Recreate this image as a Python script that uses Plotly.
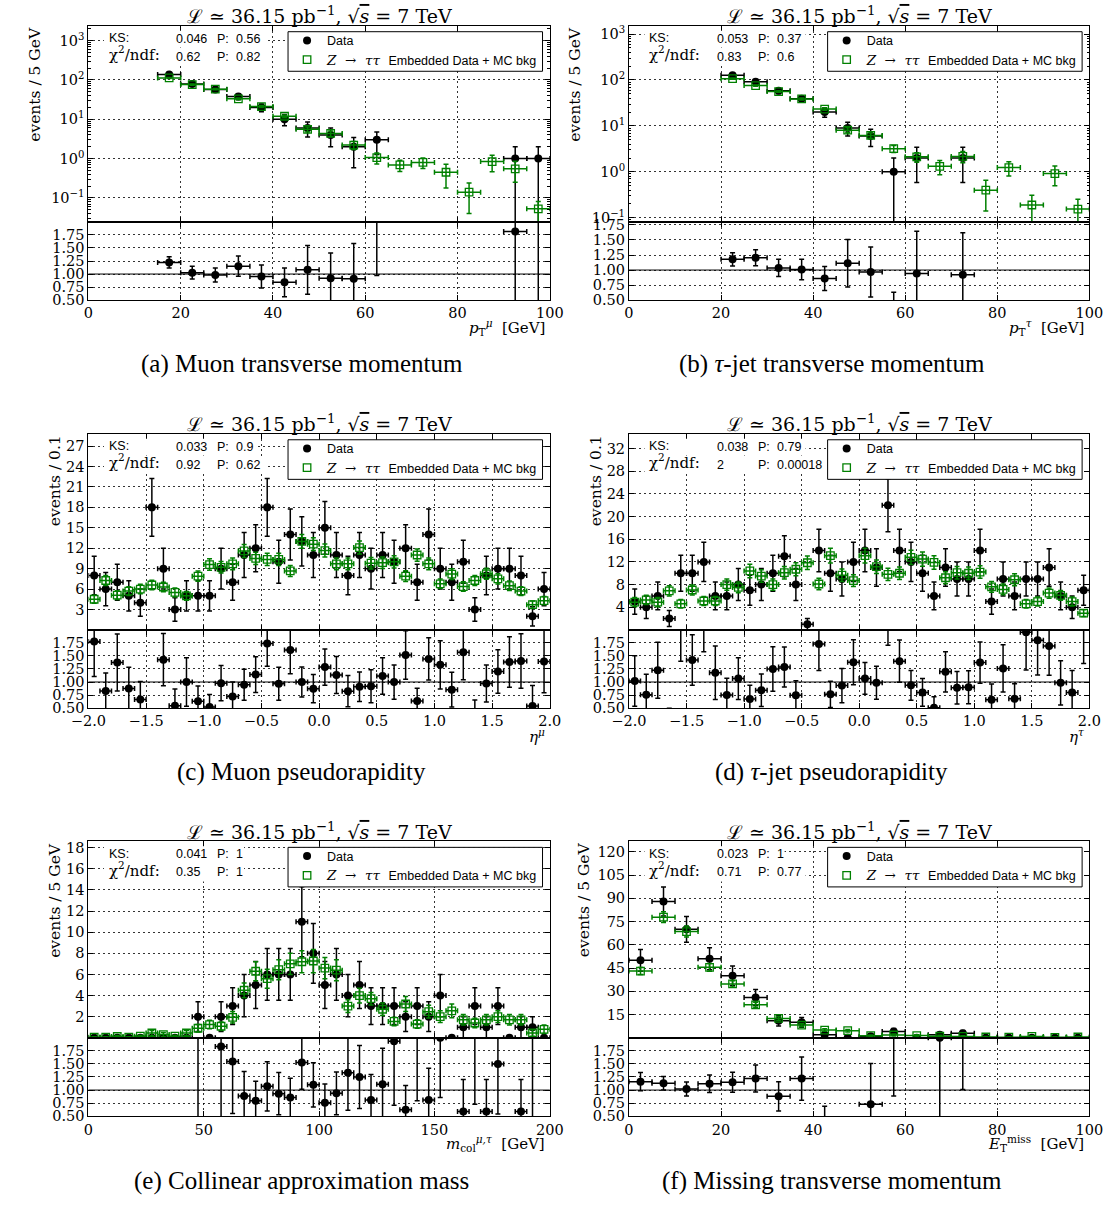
import numpy as np
import plotly.graph_objects as go

# ---------------------------------------------------------------------------
# Bin centres
# ---------------------------------------------------------------------------
pt_mu_centers = [17.5, 22.5, 27.5, 32.5, 37.5, 42.5, 47.5, 52.5, 57.5, 62.5,
                 67.5, 72.5, 77.5, 82.5, 87.5, 92.5, 97.5]
pt_tau_centers = [22.5, 27.5, 32.5, 37.5, 42.5, 47.5, 52.5, 57.5, 62.5, 67.5,
                  72.5, 77.5, 82.5, 87.5, 92.5, 97.5]
eta_centers = [-1.95, -1.85, -1.75, -1.65, -1.55, -1.45, -1.35, -1.25, -1.15, -1.05,
               -0.95, -0.85, -0.75, -0.65, -0.55, -0.45, -0.35, -0.25, -0.15, -0.05,
               0.05, 0.15, 0.25, 0.35, 0.45, 0.55, 0.65, 0.75, 0.85, 0.95,
               1.05, 1.15, 1.25, 1.35, 1.45, 1.55, 1.65, 1.75, 1.85, 1.95]
mcol_centers = [2.5, 7.5, 12.5, 17.5, 22.5, 27.5, 32.5, 37.5, 42.5, 47.5,
                52.5, 57.5, 62.5, 67.5, 72.5, 77.5, 82.5, 87.5, 92.5, 97.5,
                102.5, 107.5, 112.5, 117.5, 122.5, 127.5, 132.5, 137.5, 142.5, 147.5,
                152.5, 157.5, 162.5, 167.5, 172.5, 177.5, 182.5, 187.5, 192.5, 197.5]
met_centers = [2.5, 7.5, 12.5, 17.5, 22.5, 27.5, 32.5, 37.5, 42.5, 47.5,
               52.5, 57.5, 62.5, 67.5, 72.5, 77.5, 82.5, 87.5, 92.5, 97.5]

# ---------------------------------------------------------------------------
# (a) muon transverse momentum
# ---------------------------------------------------------------------------
pt_mu_data = [137, 78, 57, 38, 20, 10, 6, 4, 2, 3, 0, 0, 0, 0, 0, 1, 1]
pt_mu_mc = [112, 76, 58, 33, 21, 11.9, 5.55, 4.35, 2.2, 1.06, 0.69, 0.8, 0.45,
            0.14, 0.84, 0.55, 0.053]
pt_mu_mc_err = [3.0, 2.5, 2.0, 1.6, 1.2, 1.0, 0.8, 0.7, 0.5, 0.33, 0.22, 0.24,
                0.27, 0.1, 0.38, 0.3, 0.028]

# (b) tau-jet transverse momentum
pt_tau_data = [126, 91, 58, 39, 20, 9, 6, 1, 2, 0, 2, 0, 0, 0, 0, 0]
pt_tau_mc = [107, 75.5, 56, 38.6, 23.3, 8.1, 6.2, 3.2, 2.12, 1.32, 2.17, 0.4,
             1.24, 0.19, 0.92, 0.155]
pt_tau_mc_err = [3.0, 2.5, 2.2, 2.0, 1.5, 1.0, 0.8, 0.55, 0.5, 0.45, 0.6, 0.26,
                 0.43, 0.12, 0.42, 0.1]

# (c) muon pseudorapidity
eta_mu_data = [8, 6, 7, 5, 4, 18, 9, 3, 5, 5, 5, 9, 7, 11, 12, 18, 10, 14, 13, 11,
               15, 11, 8, 11, 9, 11, 10, 12, 7, 14, 9, 7, 10, 3, 8, 9, 9, 8, 2, 6]
eta_mu_mc = [4.5, 7.26, 5.1, 5.7, 6.0, 6.6, 6.3, 5.5, 5.0, 7.9,
             9.6, 9.2, 9.7, 11.6, 10.5, 10.35, 10.35, 8.66, 13.0, 12.6,
             11.66, 9.7, 9.7, 12.1, 9.8, 9.87, 10.0, 7.9, 11.0, 9.7,
             6.77, 8.2, 6.37, 7.26, 8.25, 7.5, 6.5, 5.7, 3.7, 4.3]
eta_mu_mc_err = [0.6, 0.75, 0.65, 0.65, 0.7, 0.7, 0.7, 0.65, 0.65, 0.75,
                 0.85, 0.85, 0.85, 0.95, 0.9, 0.9, 0.9, 0.8, 1.0, 0.95,
                 0.95, 0.85, 0.85, 0.95, 0.85, 0.85, 0.9, 0.8, 0.9, 0.85,
                 0.7, 0.8, 0.7, 0.75, 0.8, 0.75, 0.7, 0.65, 0.55, 0.6]

# (d) tau-jet pseudorapidity
eta_tau_data = [5, 4, 6, 2, 10, 10, 12, 6, 6, 8, 7, 8, 10, 13, 8, 1, 14, 10, 9, 12,
                14, 11, 22, 14, 12, 10, 6, 11, 9, 9, 14, 5, 9, 6, 9, 9, 11, 6, 4, 7]
eta_tau_mc = [4.9, 5.3, 4.9, 6.9, 4.6, 7.04, 5.1, 5.1, 8.0, 7.5,
              10.4, 9.5, 8.0, 10.1, 10.7, 11.85, 8.1, 13.1, 9.65, 8.7,
              13.1, 11.15, 9.8, 10.0, 12.8, 12.5, 11.9, 9.2, 10.1, 10.0,
              10.2, 7.6, 7.14, 8.85, 4.6, 5.0, 6.5, 6.1, 5.0, 2.95]
eta_tau_mc_err = [0.8, 0.8, 0.8, 0.9, 0.75, 0.9, 0.8, 0.8, 1.0, 0.95,
                  1.2, 1.1, 1.0, 1.1, 1.15, 1.2, 1.0, 1.3, 1.1, 1.05,
                  1.3, 1.2, 1.1, 1.1, 1.25, 1.25, 1.2, 1.05, 1.1, 1.1,
                  1.1, 0.95, 0.95, 1.05, 0.75, 0.8, 0.9, 0.85, 0.8, 0.6]

# (e) collinear approximation mass
mcol_data = [0, 0, 0, 0, 0, 0, 0, 0, 0, 2, 0, 2, 3, 4, 5, 6, 6, 6, 11, 8,
             5, 6, 4, 5, 3, 3, 3, 2, 3, 2, 4, 0, 1, 3, 1, 3, 0, 1, 1, 0]
mcol_mc = [0.05, 0.05, 0.12, 0.05, 0.15, 0.45, 0.3, 0.15, 0.45, 0.9,
           1.25, 1.09, 1.94, 4.5, 6.3, 5.6, 6.45, 7.0, 7.2, 7.27,
           6.6, 6.4, 3.0, 4.0, 3.7, 2.7, 1.55, 3.2, 1.3, 2.47,
           2.0, 2.55, 1.7, 1.4, 1.7, 2.0, 1.7, 1.7, 0.45, 0.8]
mcol_mc_err = [0.05, 0.05, 0.1, 0.05, 0.1, 0.25, 0.2, 0.1, 0.25, 0.35,
               0.4, 0.4, 0.55, 0.7, 0.9, 0.9, 0.95, 1.0, 1.05, 1.1,
               1.0, 1.0, 0.6, 0.7, 0.6, 0.6, 0.4, 0.7, 0.4, 0.6,
               0.55, 0.65, 0.5, 0.45, 0.5, 0.55, 0.5, 0.5, 0.3, 0.4]

# (f) missing transverse momentum
met_data = [50, 88, 70, 51, 40, 26, 11, 10, 2, 0, 1, 4, 0, 2, 3, 0, 0, 0, 0, 0]
met_mc = [43.1, 77.9, 68.6, 45.5, 34.8, 21.3, 12.5, 8.2, 5.0, 4.6,
          1.37, 1.8, 1.4, 1.0, 0.9, 0.5, 0.4, 0.9, 0.3, 0.5]
met_mc_err = [2.2, 3.5, 3.5, 2.5, 2.0, 1.6, 1.3, 1.0, 0.8, 0.8,
              0.5, 0.6, 0.5, 0.6, 0.35, 0.3, 0.3, 0.4, 0.25, 0.3]

# goodness-of-fit summaries: (KS, P, chi2/ndf, P)
stats_a = ["0.046", "0.56", "0.62", "0.82"]
stats_b = ["0.053", "0.37", "0.83", "0.6"]
stats_c = ["0.033", "0.9", "0.92", "0.62"]
stats_d = ["0.038", "0.79", "2", "0.00018"]
stats_e = ["0.041", "1", "0.35", "1"]
stats_f = ["0.023", "1", "0.71", "0.77"]

# axis tick labels
log_ticks = [0.1, 1, 10, 100, 1000]
log_ticktext = ["10<sup>−1</sup>", "10<sup>0</sup>", "10<sup>1</sup>",
                "10<sup>2</sup>", "10<sup>3</sup>"]
pt_ticks = [0, 20, 40, 60, 80, 100]
eta_ticks = [-2.0, -1.5, -1.0, -0.5, 0.0, 0.5, 1.0, 1.5, 2.0]
eta_ticktext = ["−2.0", "−1.5", "−1.0", "−0.5", "0.0", "0.5", "1.0", "1.5", "2.0"]
mcol_ticks = [0, 50, 100, 150, 200]
ratio_ticks = [0.5, 0.75, 1.0, 1.25, 1.5, 1.75]
ratio_ticktext = ["0.50", "0.75", "1.00", "1.25", "1.50", "1.75"]

# ---------------------------------------------------------------------------
# Page geometry and styles
# ---------------------------------------------------------------------------
W, H = 1117, 1209
SERIF = "DejaVu Serif"
CAPFONT = "Liberation Serif"
SANS = "Liberation Sans"
GREEN = "#008000"
NB = "\u00a0"

COLS = [(72.5, 547.5), (629.0, 1103.0)]
ROWS = [(21.0, 219.3, 298.3), (433.5, 631.7, 710.7), (845.5, 1044.0, 1123.3)]
LEG_W = 262  # legend frame width in px


def px(x):
    return x / W


def py(y):
    return 1 - y / H


def sans(txt, size=12.5):
    return f"<span style=\"font-family:{SANS};font-size:{size}px\">{txt}</span>"


TITLE = ("ℒ ≃ 36.15 pb<sup>−1</sup>, √<span style=\"text-decoration:overline\">"
         "<i>s</i></span> = 7 TeV")
MC_NAME = ("<span style=\"font-family:DejaVu Serif;font-size:13.5px\"><i>Z</i>"
           + NB * 2 + "→" + NB * 2 + "<i>ττ</i>" + NB * 2 + "</span>"
           + "Embedded Data + MC bkg")
CHI_LABEL = ("<span style=\"font-family:DejaVu Serif;font-size:15px\">"
             "χ<sup>2</sup>/ndf:</span>")

panels = [
    dict(x=pt_mu_centers, data=pt_mu_data, mc=pt_mu_mc, mc_err=pt_mu_mc_err, hw=2.5,
         xrange=[0, 100], xt=pt_ticks, xtt=[str(v) for v in pt_ticks],
         ytype="log", yrange=[-1.61, 3.375], yt=log_ticks, ytt=log_ticktext,
         rrange=[0.5, 2.0], ylab="events / 5 GeV", ylab_x=18,
         xlab="<i>p</i><sub>T</sub><sup><i>μ</i></sup>  [GeV]",
         stats=stats_a, cap="(a) Muon transverse momentum"),
    dict(x=pt_tau_centers, data=pt_tau_data, mc=pt_tau_mc, mc_err=pt_tau_mc_err, hw=2.5,
         xrange=[0, 100], xt=pt_ticks, xtt=[str(v) for v in pt_ticks],
         ytype="log", yrange=[-1.09, 3.18], yt=log_ticks, ytt=log_ticktext,
         rrange=[0.5, 1.8], ylab="events / 5 GeV", ylab_x=574,
         xlab="<i>p</i><sub>T</sub><sup><i>τ</i></sup>  [GeV]",
         stats=stats_b, cap="(b) <i>τ</i>-jet transverse momentum"),
    dict(x=eta_centers, data=eta_mu_data, mc=eta_mu_mc, mc_err=eta_mu_mc_err, hw=0.05,
         xrange=[-2, 2], xt=eta_ticks, xtt=eta_ticktext,
         ytype="linear", yrange=[0, 28.8], yt=[3, 6, 9, 12, 15, 18, 21, 24, 27],
         ytt=None, rrange=[0.5, 2.0], ylab="events / 0.1", ylab_x=38,
         xlab="<i>η</i><sup><i>μ</i></sup>",
         stats=stats_c, cap="(c) Muon pseudorapidity"),
    dict(x=eta_centers, data=eta_tau_data, mc=eta_tau_mc, mc_err=eta_tau_mc_err, hw=0.05,
         xrange=[-2, 2], xt=eta_ticks, xtt=eta_ticktext,
         ytype="linear", yrange=[0, 34.6], yt=[4, 8, 12, 16, 20, 24, 28, 32],
         ytt=None, rrange=[0.5, 2.0], ylab="events / 0.1", ylab_x=595,
         xlab="<i>η</i><sup><i>τ</i></sup>",
         stats=stats_d, cap="(d) <i>τ</i>-jet pseudorapidity"),
    dict(x=mcol_centers, data=mcol_data, mc=mcol_mc, mc_err=mcol_mc_err, hw=2.5,
         xrange=[0, 200], xt=mcol_ticks, xtt=[str(v) for v in mcol_ticks],
         ytype="linear", yrange=[0, 18.6], yt=[2, 4, 6, 8, 10, 12, 14, 16, 18],
         ytt=None, rrange=[0.5, 2.0], ylab="events / 5 GeV", ylab_x=38,
         xlab="<i>m</i><sub>col</sub><sup><i>μ,τ</i></sup>  [GeV]",
         stats=stats_e, cap="(e) Collinear approximation mass"),
    dict(x=met_centers, data=met_data, mc=met_mc, mc_err=met_mc_err, hw=2.5,
         xrange=[0, 100], xt=pt_ticks, xtt=[str(v) for v in pt_ticks],
         ytype="linear", yrange=[0, 126.8], yt=[15, 30, 45, 60, 75, 90, 105, 120],
         ytt=None, rrange=[0.5, 2.0], ylab="events / 5 GeV", ylab_x=583,
         xlab="<i>E</i><sub>T</sub><sup>miss</sup>  [GeV]",
         stats=stats_f, cap="(f) Missing transverse momentum"),
]

axis_style = dict(
    showline=True, linecolor="black", linewidth=1, mirror="allticks",
    ticks="inside", ticklen=5, tickwidth=1, tickcolor="black",
    showgrid=True, gridcolor="rgba(0,0,0,0.8)", gridwidth=1, griddash="2px,3px",
    zeroline=False,
    tickfont=dict(family=SERIF, size=14.5, color="black"),
)


def err_bar(arr, color):
    return dict(type="data", array=arr, visible=True, color=color,
                thickness=1.5, width=2.5)


def xerr_bar(hw, color):
    return dict(type="constant", value=hw, visible=True, color=color,
                thickness=1.5, width=2.5)


fig = go.Figure()
annotations = []
shapes = []
layout_axes = {}
legends = {}

for i, p in enumerate(panels):
    col, row = i % 2, i // 2
    x0, x1 = COLS[col]
    top, mid, bot = ROWS[row]
    km, kr = 2 * i + 1, 2 * i + 2
    xm = "x" if km == 1 else f"x{km}"
    ym = "y" if km == 1 else f"y{km}"
    xr, yr = f"x{kr}", f"y{kr}"
    leg = "legend" if i == 0 else f"legend{i + 1}"

    d = np.array(p["data"], dtype=float)
    m = np.array(p["mc"], dtype=float)
    me = np.array(p["mc_err"], dtype=float)
    de = np.sqrt(d)  # Poisson uncertainty on observed counts

    # observed data
    fig.add_trace(go.Scatter(
        x=p["x"], y=d.tolist(), mode="markers", name="Data", legend=leg,
        xaxis=xm, yaxis=ym,
        marker=dict(symbol="circle", size=8, color="black", line=dict(width=0)),
        error_y=err_bar(de.tolist(), "black"),
        error_x=xerr_bar(p["hw"], "black"),
    ))
    # embedded Z->tautau + MC background prediction
    fig.add_trace(go.Scatter(
        x=p["x"], y=m.tolist(), mode="markers", name=MC_NAME, legend=leg,
        xaxis=xm, yaxis=ym,
        marker=dict(symbol="square-open", size=7.5, color=GREEN,
                    line=dict(width=1.3, color=GREEN)),
        error_y=err_bar(me.tolist(), GREEN),
        error_x=xerr_bar(p["hw"], GREEN),
    ))

    # data / prediction ratio
    ratio, rerr = [], []
    for dv, dev, mv, mev in zip(d, de, m, me):
        if dv > 0 and mv > 0:
            r = dv / mv
            ratio.append(r)
            rerr.append(r * np.sqrt((dev / dv) ** 2 + (mev / mv) ** 2))
        else:
            ratio.append(None)
            rerr.append(0.0)
    fig.add_trace(go.Scatter(
        x=p["x"], y=ratio, mode="markers", showlegend=False,
        xaxis=xr, yaxis=yr,
        marker=dict(symbol="circle", size=8, color="black", line=dict(width=0)),
        error_y=err_bar(rerr, "black"),
        error_x=xerr_bar(p["hw"], "black"),
    ))

    xdom = [px(x0), px(x1)]
    layout_axes["xaxis" if km == 1 else f"xaxis{km}"] = dict(
        axis_style, domain=xdom, anchor=ym, matches=xr, range=p["xrange"],
        tickmode="array", tickvals=p["xt"], showticklabels=False,
    )
    layout_axes[f"xaxis{kr}"] = dict(
        axis_style, domain=xdom, anchor=yr, range=p["xrange"],
        tickmode="array", tickvals=p["xt"], ticktext=p["xtt"],
    )
    ymain = dict(
        axis_style, domain=[py(mid), py(top)], anchor=xm, type=p["ytype"],
        range=p["yrange"], tickmode="array", tickvals=p["yt"],
    )
    if p["ytt"] is not None:
        ymain["ticktext"] = p["ytt"]
    if p["ytype"] == "log":
        minor_vals = [k * 10.0 ** e for e in range(-2, 4) for k in range(2, 10)]
        ymain["minor"] = dict(ticks="inside", ticklen=2.5, tickcolor="black",
                              tickmode="array", tickvals=minor_vals, showgrid=False)
    layout_axes["yaxis" if km == 1 else f"yaxis{km}"] = ymain
    layout_axes[f"yaxis{kr}"] = dict(
        axis_style, domain=[py(bot), py(mid)], anchor=xr, range=p["rrange"],
        tickmode="array", tickvals=ratio_ticks, ticktext=ratio_ticktext,
    )

    # unit line in the ratio panel
    shapes.append(dict(type="line", xref=f"{xr} domain", x0=0, x1=1,
                       yref=yr, y0=1, y1=1, line=dict(color="black", width=1)))

    # legend: framed box drawn as a shape, entries from the plotly legend
    lx0, lx1 = x1 - 7.5 - LEG_W, x1 - 7.5
    shapes.append(dict(type="rect", xref="paper", yref="paper", layer="above",
                       x0=px(lx0), x1=px(lx1), y0=py(top + 46), y1=py(top + 6),
                       fillcolor="white", line=dict(color="black", width=1)))
    legends[leg] = dict(
        x=px(lx0 - 1), y=py(top), xanchor="left", yanchor="top",
        bgcolor="rgba(0,0,0,0)", borderwidth=0,
        font=dict(family=SANS, size=12.5, color="black"),
        tracegroupgap=0, itemclick=False, itemdoubleclick=False,
    )

    # panel title
    annotations.append(dict(
        text=TITLE, x=px((x0 + x1) / 2), y=py(top - 11), xref="paper", yref="paper",
        showarrow=False, xanchor="center", yanchor="middle",
        font=dict(family=SERIF, size=19, color="black")))
    # y-axis title, aligned to the top of the frame
    annotations.append(dict(
        text=p["ylab"], x=px(p["ylab_x"]), y=py(top - 1), xref="paper", yref="paper",
        showarrow=False, textangle=-90, xanchor="center", yanchor="top",
        font=dict(family=SERIF, size=15.5, color="black")))
    # x-axis title, aligned to the right end of the axis
    annotations.append(dict(
        text=p["xlab"], x=px(x1 - 3), y=py(bot + 28), xref="paper", yref="paper",
        showarrow=False, xanchor="right", yanchor="middle",
        font=dict(family=SERIF, size=15, color="black")))

    # goodness-of-fit box: white backing, then four two-line text columns
    ks, ksp, chi, chip = p["stats"]
    r1, r2 = top + 13.5, top + 31
    end1 = x0 + 150 + 7.2 * len(ksp) + 3
    end2 = x0 + 150 + 7.2 * len(chip) + 3
    shapes.append(dict(type="rect", xref="paper", yref="paper", layer="above",
                       x0=px(x0 + 16), x1=px(end1), y0=py(r1 + 8.5), y1=py(r1 - 8.5),
                       fillcolor="white", line=dict(width=0)))
    shapes.append(dict(type="rect", xref="paper", yref="paper", layer="above",
                       x0=px(x0 + 16), x1=px(end2), y0=py(r2 + 9.5), y1=py(r2 - 8.5),
                       fillcolor="white", line=dict(width=0)))
    for txt, dx in [
        (sans("KS:") + "<br>" + CHI_LABEL, 19),
        (sans(ks) + "<br>" + sans(chi), 88.5),
        (sans("P:") + "<br>" + sans("P:"), 130.5),
        (sans(ksp) + "<br>" + sans(chip), 150),
    ]:
        annotations.append(dict(
            text=txt, x=px(x0 + dx), y=py((r1 + r2) / 2), xref="paper", yref="paper",
            showarrow=False, xanchor="left", yanchor="middle", align="left",
            font=dict(family=SANS, size=13.5, color="black")))
    # sub-figure caption
    annotations.append(dict(
        text=p["cap"], x=px(292 if col == 0 else 838), y=py(bot + 65),
        xref="paper", yref="paper", showarrow=False, xanchor="center",
        yanchor="middle", font=dict(family=CAPFONT, size=25, color="black")))

fig.update_layout(
    width=W, height=H, margin=dict(l=0, r=0, t=0, b=0),
    paper_bgcolor="white", plot_bgcolor="white",
    showlegend=True, annotations=annotations, shapes=shapes,
    **layout_axes, **legends,
)

fig.write_html("out.html", config={"displayModeBar": False})
